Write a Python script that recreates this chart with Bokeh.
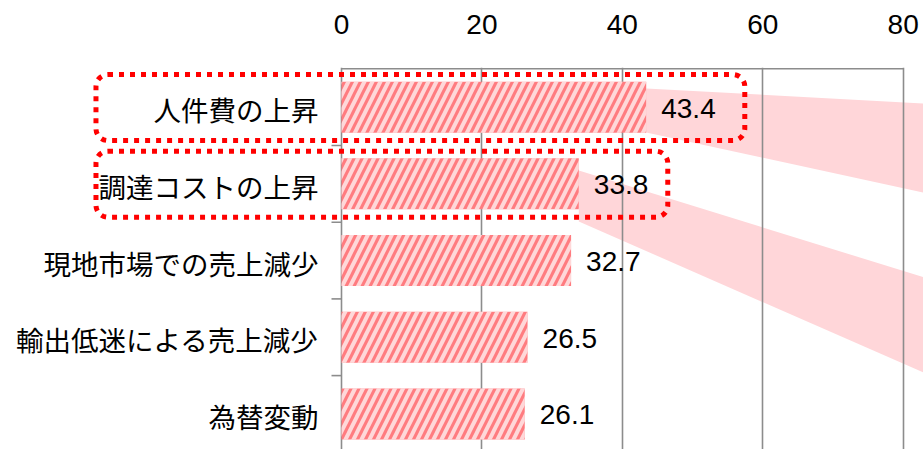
from bokeh.plotting import figure
from bokeh.models import Range1d, FixedTicker, BoxAnnotation, ColumnDataSource
from bokeh.core.properties import value
from bokeh.embed import file_html
from bokeh.resources import INLINE

# ---- data ----
categories = ["人件費の上昇", "調達コストの上昇", "現地市場での売上減少", "輸出低迷による売上減少", "為替変動"]
values = [43.4, 33.8, 32.7, 26.5, 26.1]
x_ticks = [0, 20, 40, 60, 80]
highlight_idx = [0, 1]

# ---- layout constants (pixels -> data) ----
W, H = 923, 449
PX_PER_X = 7.021
ZERO_PX = 341
PX_PER_CAT = 76.7
TOP_PX = 67
FIRST_BOUND_PX = 68.3

x_start = -ZERO_PX / PX_PER_X
x_end = (W - ZERO_PX) / PX_PER_X
y_end = -(FIRST_BOUND_PX - TOP_PX) / PX_PER_CAT
y_start = y_end + (H - TOP_PX) / PX_PER_CAT

p = figure(width=W, height=H, output_backend="svg", toolbar_location=None,
           x_range=Range1d(x_start, x_end), y_range=Range1d(y_start, y_end),
           x_axis_location="above", y_axis_location=None,
           min_border_left=0, min_border_right=0, min_border_bottom=0, min_border_top=TOP_PX)
p.outline_line_color = None
p.background_fill_color = "white"
p.border_fill_color = "white"

# axis
ax = p.xaxis[0]
ax.ticker = FixedTicker(ticks=x_ticks)
ax.axis_line_color = None
ax.major_tick_line_color = None
ax.minor_tick_line_color = None
ax.major_label_text_font = "Liberation Sans"
ax.major_label_text_font_size = "28px"
ax.major_label_text_color = "black"
ax.major_label_standoff = 28

p.xgrid.ticker = FixedTicker(ticks=x_ticks)
p.xgrid.grid_line_color = "#8c8c8c"
p.xgrid.grid_line_width = 1.6
p.ygrid.grid_line_color = None

n = len(categories)
centers = [i + 0.5 for i in range(n)]

# callout bands (behind grid)
band_src = [
    # (value, left top, left bottom, right top, right bottom) in category units
    (values[0], 0.257, 0.830, 0.452, 1.613),
    (values[1], 1.326, 1.991, 2.717, 3.960),
]
for v, lt, lb, rt, rb in band_src:
    r = p.patch([v, x_end, x_end, v], [lt, rt, rb, lb], fill_color="#FFD6D9",
                line_color=None)
    r.level = "image"

# top line and left ticks
p.segment(x0=[0], x1=[80], y0=[0], y1=[0], line_color="#8c8c8c", line_width=1.6)
tick_len = 10 / PX_PER_X
p.segment(x0=[-tick_len] * (n - 1), x1=[0] * (n - 1), y0=list(range(1, n)),
          y1=list(range(1, n)), line_color="#8c8c8c", line_width=1.6)

# bars
src = ColumnDataSource(dict(y=centers, v=values, lab=[f"{v:.1f}" for v in values], cat=categories))
p.hbar(y="y", left=0, right="v", height=0.665, source=src,
       fill_color="#FF7C80", line_color=None,
       hatch_pattern="right_diagonal_line", hatch_color="white",
       hatch_alpha=0.7, hatch_weight=4, hatch_scale=16)

# value labels
p.text(x="v", y="y", text="lab", source=src, x_offset=15, y_offset=1,
       text_align="left", text_baseline="middle",
       text_font=value("Liberation Sans"), text_font_size="28px", text_color="black")

# category labels
p.text(x=-23 / PX_PER_X, y="y", text="cat", source=src, y_offset=2,
       text_align="right", text_baseline="middle",
       text_font=value("Noto Sans CJK JP"), text_font_size="27.5px", text_color="black")

# highlight dotted boxes
box_left = -34.97
box_right = [57.44, 46.47]
for k, i in enumerate(highlight_idx):
    b = BoxAnnotation(left=box_left, right=box_right[k], top=i + 0.074, bottom=i + 0.935,
                      fill_alpha=0, line_color="#FF0000", line_alpha=1.0, line_width=5,
                      line_dash="5 6", border_radius=12)
    p.add_layout(b)

open("out.html", "w").write(file_html(p, INLINE))
